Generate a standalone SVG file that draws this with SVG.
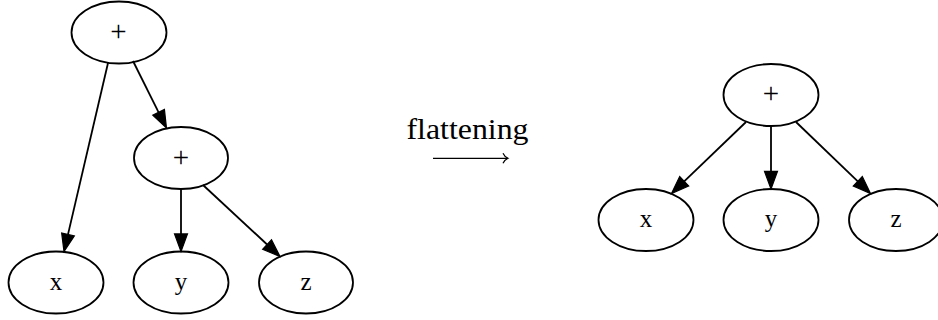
<svg xmlns="http://www.w3.org/2000/svg" width="938" height="320" viewBox="0 0 938 320">
<style>
.node ellipse{fill:none;stroke:#000;stroke-width:1.8}
.node text{font-family:"Liberation Serif","Times New Roman",serif;font-size:25px;text-anchor:middle;fill:#000}
.node text.op{font-size:29px}
.edge{stroke:#000;stroke-width:1.8;fill:none}
.lbl{font-family:"Liberation Serif","Times New Roman",serif;font-size:29px;text-anchor:middle;fill:#000}
</style>
<defs>
<marker id="ah" markerUnits="userSpaceOnUse" markerWidth="20" markerHeight="16" refX="0" refY="6.5" orient="auto" overflow="visible">
<path d="M0,0 L17.6,6.5 L0,13 z" fill="#000" stroke="#000" stroke-width="1.2"/>
</marker>
</defs>
<rect width="938" height="320" fill="#fff"/>
<g id="connectors">
<line class="edge" x1="108" y1="63" x2="68" y2="234.4" marker-end="url(#ah)"/>
<line class="edge" x1="133" y1="61" x2="158.6" y2="112.3" marker-end="url(#ah)"/>
<line class="edge" x1="181" y1="189" x2="181" y2="233.9" marker-end="url(#ah)"/>
<line class="edge" x1="203" y1="185" x2="267.1" y2="244.5" marker-end="url(#ah)"/>
<line class="edge" x1="746" y1="122" x2="684.2" y2="181.3" marker-end="url(#ah)"/>
<line class="edge" x1="771" y1="126" x2="771" y2="171.4" marker-end="url(#ah)"/>
<line class="edge" x1="796" y1="122" x2="857.8" y2="181.3" marker-end="url(#ah)"/>
</g>
<g id="L_plus1" class="node"><ellipse cx="119" cy="32.5" rx="47.5" ry="31"/><text class="op" x="118.5" y="40.5">+</text></g>
<g id="L_plus2" class="node"><ellipse cx="181" cy="158" rx="47" ry="31"/><text class="op" x="181" y="166.5">+</text></g>
<g id="L_x" class="node"><ellipse cx="56" cy="282.5" rx="47.5" ry="31"/><text x="56" y="289.5">x</text></g>
<g id="L_y" class="node"><ellipse cx="181" cy="282.5" rx="47.5" ry="31"/><text x="181" y="289.5">y</text></g>
<g id="L_z" class="node"><ellipse cx="306" cy="282.5" rx="47" ry="31"/><text x="306" y="289.5">z</text></g>
<g id="R_plus" class="node"><ellipse cx="771" cy="95" rx="47.5" ry="31"/><text class="op" x="771" y="103">+</text></g>
<g id="R_x" class="node"><ellipse cx="646" cy="220" rx="47.5" ry="31"/><text x="646" y="227">x</text></g>
<g id="R_y" class="node"><ellipse cx="771" cy="220" rx="47.5" ry="31"/><text x="771" y="227">y</text></g>
<g id="R_z" class="node"><ellipse cx="896" cy="220" rx="47" ry="31"/><text x="896" y="227">z</text></g>
<g id="transform">
<text class="lbl" x="467.5" y="139" textLength="122" lengthAdjust="spacingAndGlyphs">flattening</text>
<path d="M433,158.3 H507.5" stroke="#000" stroke-width="1.3" fill="none"/>
<path d="M503,153.3 Q504.5,156.8 508,158.3 Q504.5,159.8 503,163.3" stroke="#000" stroke-width="1.2" fill="none"/>
</g>
</svg>
